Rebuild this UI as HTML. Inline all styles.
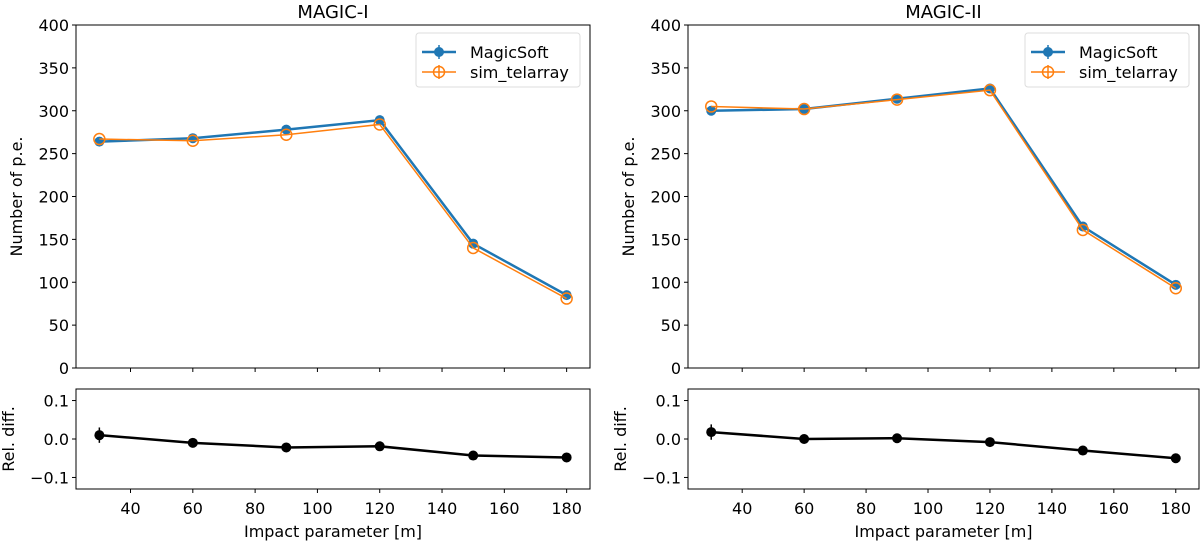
<!DOCTYPE html>
<html><head><meta charset="utf-8"><style>
body{margin:0;background:#fff;}
svg text{font-family:"DejaVu Sans","Liberation Sans",sans-serif;fill:#000;}
</style></head><body>
<svg id="fig" width="1200" height="541" xmlns="http://www.w3.org/2000/svg"></svg>
<script>
const xCats=[30,60,90,120,150,180];
const m1Soft=[264,268,278,289,145,85];
const m1Sim=[267,265,272,284,140,81];
const m1Rel=[0.01,-0.01,-0.022,-0.019,-0.043,-0.048];
const m1RelErr=[0.02,0.006,0.004,0.004,0.004,0.004];
const m2Soft=[300,302,314,326,165,97];
const m2Sim=[305,302,313,324,161,93];
const m2Rel=[0.018,0,0.002,-0.008,-0.03,-0.05];
const m2RelErr=[0.02,0.006,0.004,0.004,0.004,0.004];
const xTicks=[40,60,80,100,120,140,160,180];
const yTicks=[0,50,100,150,200,250,300,350,400];
const relTicks=[0.1,0.0,-0.1];
const relTickLabels=["0.1","0.0","\u22120.1"];

const NS="http://www.w3.org/2000/svg";
const svg=document.getElementById('fig');
function mk(tag,attrs,parent){const e=document.createElementNS(NS,tag);for(const k in attrs)e.setAttribute(k,attrs[k]);(parent||svg).appendChild(e);return e;}

function panel(cfg){
  const g=mk('g',{});
  
  
  const L=cfg.left,R=cfg.right,T=25,B=368,T2=389,B2=489;
  const xs=v=>L+(v-22.5)/(187.5-22.5)*(R-L);
  const ys=v=>B-(v/400)*(B-T);
  const yr=v=>T2+(0.13-v)/0.26*(B2-T2);
  const t=mk('text',{x:(L+R)/2,y:18,'text-anchor':'middle','font-size':18},g);t.textContent=cfg.title;
  
  const f1=mk('rect',{x:L,y:T,width:R-L,height:B-T,fill:'none',stroke:'#000','stroke-width':1},g);
  
  const f2=mk('rect',{x:L,y:T2,width:R-L,height:B2-T2,fill:'none',stroke:'#000','stroke-width':1},g);
  
  yTicks.forEach(v=>{
    mk('line',{x1:L-4,x2:L,y1:ys(v),y2:ys(v),stroke:'#000'},g);
    const tx=mk('text',{x:L-7,y:ys(v)+6,'text-anchor':'end','font-size':16},g);tx.textContent=v;
    
  });
  relTicks.forEach((v,i)=>{
    mk('line',{x1:L-4,x2:L,y1:yr(v),y2:yr(v),stroke:'#000'},g);
    const tx=mk('text',{x:L-7,y:yr(v)+6,'text-anchor':'end','font-size':16},g);tx.textContent=relTickLabels[i];
    
  });
  xTicks.forEach(v=>{
    mk('line',{x1:xs(v),x2:xs(v),y1:B,y2:B+4,stroke:'#000'},g);
    mk('line',{x1:xs(v),x2:xs(v),y1:B2,y2:B2+4,stroke:'#000'},g);
    const tx=mk('text',{x:xs(v),y:B2+25,'text-anchor':'middle','font-size':16},g);tx.textContent=v;
    
  });
  const xl=mk('text',{x:(L+R)/2,y:537,'text-anchor':'middle','font-size':16},g);xl.textContent='Impact parameter [m]';
  
  const yl=mk('text',{x:0,y:0,'text-anchor':'middle','font-size':16,transform:`translate(${L-54},${(T+B)/2}) rotate(-90)`},g);yl.textContent='Number of p.e.';
  
  const rl=mk('text',{x:0,y:0,'text-anchor':'middle','font-size':16,transform:`translate(${L-62},${(T2+B2)/2}) rotate(-90)`},g);rl.textContent='Rel. diff.';
  
  const pSoft=xCats.map((x,i)=>xs(x)+','+ys(cfg.soft[i])).join(' ');
  const l1=mk('polyline',{points:pSoft,fill:'none',stroke:'#1f77b4','stroke-width':2.5},g);
  
  xCats.forEach((x,i)=>{const c=mk('circle',{cx:xs(x),cy:ys(cfg.soft[i]),r:5,fill:'#1f77b4'},g);
    });
  const pSim=xCats.map((x,i)=>xs(x)+','+ys(cfg.sim[i])).join(' ');
  const l2=mk('polyline',{points:pSim,fill:'none',stroke:'#ff7f0e','stroke-width':1.5},g);
  
  xCats.forEach((x,i)=>{const c=mk('circle',{cx:xs(x),cy:ys(cfg.sim[i]),r:5.5,fill:'none',stroke:'#ff7f0e','stroke-width':1.5},g);
    });
  const pRel=xCats.map((x,i)=>xs(x)+','+yr(cfg.rel[i])).join(' ');
  const l3=mk('polyline',{points:pRel,fill:'none',stroke:'#000','stroke-width':2.5},g);
  
  xCats.forEach((x,i)=>{
    mk('line',{x1:xs(x),x2:xs(x),y1:yr(cfg.rel[i]+cfg.relErr[i]),y2:yr(cfg.rel[i]-cfg.relErr[i]),stroke:'#000','stroke-width':1.5},g);
    const c=mk('circle',{cx:xs(x),cy:yr(cfg.rel[i]),r:5,fill:'#000'},g);
    });
  const lg=mk('g',{},g);
  
  const lx=R-174;
  mk('rect',{x:lx,y:33,width:164,height:54,rx:3,fill:'#fff','fill-opacity':0.8,stroke:'#ddd'},lg);
  mk('line',{x1:lx+6,x2:lx+40,y1:52,y2:52,stroke:'#1f77b4','stroke-width':2.5},lg);
  mk('line',{x1:lx+23,x2:lx+23,y1:45,y2:59,stroke:'#1f77b4','stroke-width':1.5},lg);
  mk('circle',{cx:lx+23,cy:52,r:5,fill:'#1f77b4'},lg);
  const e1=mk('text',{x:lx+54,y:58,'font-size':16},lg);e1.textContent='MagicSoft';
  
  mk('line',{x1:lx+6,x2:lx+40,y1:72,y2:72,stroke:'#ff7f0e','stroke-width':1.5},lg);
  mk('line',{x1:lx+23,x2:lx+23,y1:65,y2:79,stroke:'#ff7f0e','stroke-width':1.5},lg);
  mk('circle',{cx:lx+23,cy:72,r:5.5,fill:'none',stroke:'#ff7f0e','stroke-width':1.5},lg);
  const e2=mk('text',{x:lx+54,y:78,'font-size':16},lg);e2.textContent='sim_telarray';
  
}
panel({name:'magic-i-panel',title:'MAGIC-I',left:76,right:590,soft:m1Soft,sim:m1Sim,rel:m1Rel,relErr:m1RelErr});
panel({name:'magic-ii-panel',title:'MAGIC-II',left:688,right:1199,soft:m2Soft,sim:m2Sim,rel:m2Rel,relErr:m2RelErr});
</script>
</body></html>
